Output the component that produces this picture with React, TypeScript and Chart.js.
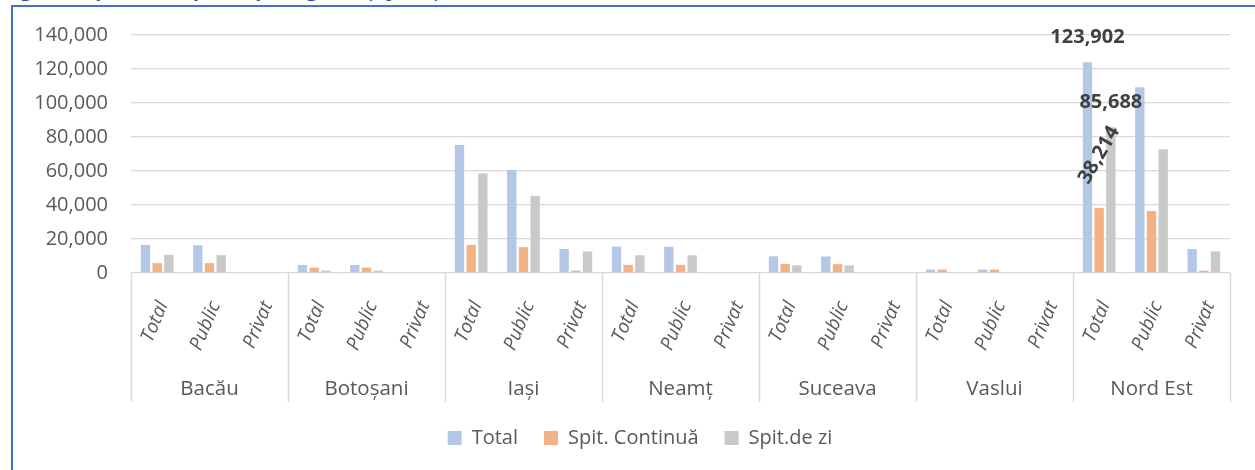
import React, { useEffect, useRef } from "react";
import { Chart, registerables } from "chart.js";

Chart.register(...registerables);

const titleText = "Fig. 12 Capacitate spitale pe regiune și județe (nr.)";
const regions = ["Bacău", "Botoșani", "Iași", "Neamț", "Suceava", "Vaslui", "Nord Est"];
const subCategories = ["Total", "Public", "Privat"];
const seriesNames = ["Total", "Spit. Continuă", "Spit.de zi"];
const seriesColors = ["#B4C7E7", "#F4B183", "#C9C9C9"];

const totalValues = [
  16500, 16300, 0,
  4700, 4700, 0,
  75300, 60600, 14100,
  15500, 15500, 0,
  9800, 9700, 0,
  2000, 2000, 0,
  123902, 109300, 14100,
];
const continuaValues = [
  5800, 5800, 0,
  3200, 3200, 0,
  16500, 15200, 1400,
  4800, 4800, 0,
  5300, 5200, 0,
  2000, 2000, 0,
  38214, 36500, 1400,
];
const deZiValues = [
  10700, 10500, 0,
  1400, 1400, 0,
  58600, 45400, 12700,
  10400, 10400, 0,
  4500, 4500, 0,
  0, 0, 0,
  85688, 72800, 12700,
];
const yMax = 140000;
const yStep = 20000;
const labeledIndex = 18;

const FONT = "'Open Sans', 'Noto Sans', sans-serif";
const TEXT = "#595959";

const fmt = (v: number) => v.toLocaleString("en-US");

const groupPlugin = {
  id: "groupLabels",
  afterLayout(chart: any) {
    if (chart.legend) {
      chart.legend.left = chart.legend.left + 50;
    }
  },
  afterDraw(chart: any) {
    const { ctx, chartArea, scales } = chart;
    const x = scales.x;
    const n = subCategories.length;
    const step = x.getPixelForValue(1) - x.getPixelForValue(0);
    const top = chartArea.bottom;
    const bottom = chartArea.bottom + 129;
    ctx.save();
    ctx.strokeStyle = "#D9D9D9";
    ctx.lineWidth = 1.5;
    for (let g = 0; g <= regions.length; g++) {
      const px = Math.round(x.getPixelForValue(g * n) - step / 2) + 0.5;
      ctx.beginPath();
      ctx.moveTo(px, top);
      ctx.lineTo(px, bottom);
      ctx.stroke();
    }
    ctx.fillStyle = TEXT;
    ctx.font = `20.5px ${FONT}`;
    ctx.textAlign = "center";
    ctx.textBaseline = "middle";
    regions.forEach((r, g) => {
      const left = x.getPixelForValue(g * n) - step / 2;
      const right = x.getPixelForValue(g * n + n - 1) + step / 2;
      ctx.fillText(r, (left + right) / 2, chartArea.bottom + 116);
    });
    ctx.restore();
  },
  afterDatasetsDraw(chart: any) {
    const { ctx } = chart;
    ctx.save();
    ctx.fillStyle = "#404040";
    ctx.font = `bold 20px ${FONT}`;
    ctx.textAlign = "center";
    ctx.textBaseline = "middle";
    chart.data.datasets.forEach((ds: any, d: number) => {
      const el = chart.getDatasetMeta(d).data[labeledIndex];
      if (!el) return;
      const text = fmt(ds.data[labeledIndex]);
      if (d === 1) {
        ctx.save();
        ctx.translate(el.x, el.y - 53);
        ctx.rotate((-60 * Math.PI) / 180);
        ctx.fillText(text, 0, 0);
        ctx.restore();
      } else {
        ctx.fillText(text, el.x, el.y - 25);
      }
    });
    ctx.restore();
  },
};

export default function App() {
  const ref = useRef<HTMLCanvasElement>(null);
  useEffect(() => {
    if (!ref.current) return;
    const labels = regions.flatMap(() => subCategories);
    const values = [totalValues, continuaValues, deZiValues];
    const chart = new Chart(ref.current, {
      type: "bar",
      data: {
        labels,
        datasets: seriesNames.map((name, i) => ({
          label: name,
          data: values[i],
          backgroundColor: seriesColors[i],
          borderWidth: 0,
          categoryPercentage: 0.67,
          barPercentage: 0.8,
        })),
      },
      options: {
        responsive: false,
        maintainAspectRatio: false,
        animation: false,
        layout: { padding: { left: 0, right: 25, top: 35, bottom: 12 } },
        plugins: {
          tooltip: { enabled: false },
          legend: {
            position: "bottom",
            labels: {
              boxWidth: 14,
              boxHeight: 14,
              padding: 26,
              color: TEXT,
              font: { size: 20, family: FONT },
            },
          },
        },
        scales: {
          x: {
            grid: { display: false },
            border: { display: false },
            ticks: {
              autoSkip: false,
              maxRotation: 67,
              minRotation: 67,
              padding: 17,
              labelOffset: 6,
              color: TEXT,
              font: { size: 19, style: "italic", family: FONT },
            },
            afterFit(scale: any) {
              scale.height = 129;
            },
          },
          y: {
            min: 0,
            max: yMax,
            grid: { color: "#D9D9D9", lineWidth: 1.3, drawTicks: false },
            border: { display: false },
            ticks: {
              stepSize: yStep,
              padding: 23,
              color: TEXT,
              font: { size: 20, family: FONT },
              callback: (v: any) => fmt(Number(v)),
            },
            afterFit(scale: any) {
              scale.width = 131;
            },
          },
        },
      },
      plugins: [groupPlugin],
    });
    return () => chart.destroy();
  }, []);

  return (
    <div style={{ position: "fixed", left: 0, top: 0, width: 1255, height: 470, background: "#fff", overflow: "hidden" }}>
      <div
        style={{
          position: "absolute",
          left: 3,
          top: -21,
          font: `bold 20px/20px ${FONT}`,
          color: "#2F5597",
          whiteSpace: "nowrap",
        }}
      >
        {titleText}
      </div>
      <div
        style={{
          position: "absolute",
          left: 11,
          top: 5,
          width: 1400,
          height: 600,
          borderLeft: "2px solid #4472C4",
          borderTop: "2px solid #4472C4",
          pointerEvents: "none",
        }}
      />
      <canvas ref={ref} width={1255} height={470} style={{ position: "absolute", left: 0, top: 0, width: 1255, height: 470 }} />
    </div>
  );
}
